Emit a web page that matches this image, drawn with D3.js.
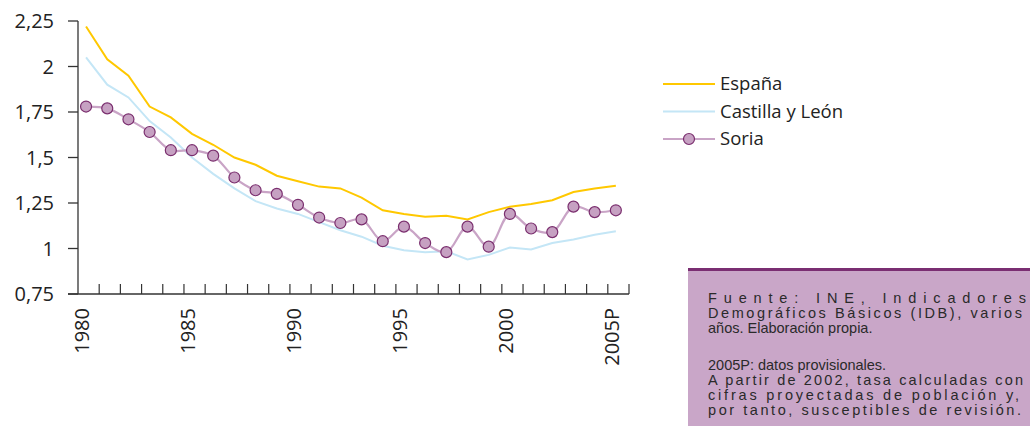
<!DOCTYPE html>
<html>
<head>
<meta charset="utf-8">
<script src="https://cdn.jsdelivr.net/npm/d3@7"></script>
<style>
  body { margin: 0; background: #fff; }
  svg { display: block; }
</style>
</head>
<body>
<svg width="1030" height="426"></svg>
<script>
const years = d3.range(1980, 2006);
const yearLabels = ['1980', '1985', '1990', '1995', '2000', '2005P'];
const yTicks = [0.75, 1, 1.25, 1.5, 1.75, 2, 2.25];

const espana = [2.22, 2.04, 1.95, 1.78, 1.72, 1.63, 1.57, 1.50, 1.46, 1.40, 1.37, 1.34,
  1.33, 1.28, 1.21, 1.19, 1.175, 1.18, 1.16, 1.20, 1.23, 1.245, 1.265, 1.31, 1.33, 1.345];
const castilla = [2.05, 1.90, 1.83, 1.70, 1.61, 1.50, 1.41, 1.33, 1.26, 1.22, 1.19, 1.145,
  1.10, 1.065, 1.015, 0.99, 0.98, 0.985, 0.94, 0.965, 1.005, 0.995, 1.03, 1.05, 1.075, 1.095];
const soria = [1.78, 1.77, 1.71, 1.64, 1.54, 1.54, 1.51, 1.39, 1.32, 1.30, 1.24, 1.17,
  1.14, 1.16, 1.04, 1.12, 1.03, 0.98, 1.12, 1.01, 1.19, 1.11, 1.09, 1.23, 1.20, 1.21];

const legendNames = ['España', 'Castilla y León', 'Soria'];
const noteSource = [
  'Fuente: INE, Indicadores',
  'Demográficos Básicos (IDB), varios',
  'años. Elaboración propia.'
];
const noteProvisional = [
  '2005P: datos provisionales.',
  'A partir de 2002, tasa calculadas con',
  'cifras proyectadas de población y,',
  'por tanto, susceptibles de revisión.'
];

const svg = d3.select('svg');
const font = "'Open Sans', sans-serif";
const axisColor = '#333';

const x = d3.scaleLinear().domain([1980, 2006]).range([78, 629]);
const y = d3.scaleLinear().domain([0.75, 2.25]).range([294, 21]);
const px = (i) => x(years[i] + 0.38);

// axes
const g = svg.append('g');
g.append('line').attr('x1', 78).attr('x2', 78).attr('y1', y(2.25)).attr('y2', y(0.75))
  .attr('stroke', axisColor).attr('stroke-width', 1.3);
g.append('line').attr('x1', 68).attr('x2', x(2006)).attr('y1', y(0.75)).attr('y2', y(0.75))
  .attr('stroke', axisColor).attr('stroke-width', 1.3);

yTicks.forEach((t) => {
  g.append('line').attr('x1', 68).attr('x2', 78).attr('y1', y(t)).attr('y2', y(t))
    .attr('stroke', axisColor).attr('stroke-width', 1.3);
  g.append('text')
    .attr('x', 54).attr('y', y(t)).attr('dy', '0.35em')
    .attr('text-anchor', 'end')
    .style('font-family', font).style('font-size', '20px').attr('fill', '#222')
    .text(String(t).replace('.', ','));
});

d3.range(1981, 2007).forEach((yr) => {
  g.append('line').attr('x1', x(yr)).attr('x2', x(yr)).attr('y1', 284).attr('y2', 294)
    .attr('stroke', axisColor).attr('stroke-width', 1.2);
});

yearLabels.forEach((lab, i) => {
  const xx = x(1980 + i * 5) + 4;
  g.append('text')
    .attr('transform', `translate(${xx},308) rotate(-90)`)
    .attr('dy', '0.35em')
    .attr('text-anchor', 'end')
    .style('font-family', font).style('font-size', '20px').attr('fill', '#222')
    .text(lab);
});

// lines
const line = d3.line().x((d, i) => px(i)).y((d) => y(d));
svg.append('path').datum(castilla).attr('d', line)
  .attr('fill', 'none').attr('stroke', '#c4e6f6').attr('stroke-width', 2);
svg.append('path').datum(espana).attr('d', line)
  .attr('fill', 'none').attr('stroke', '#ffc800').attr('stroke-width', 2);
svg.append('path').datum(soria).attr('d', line.curve(d3.curveCatmullRom.alpha(0.5)))
  .attr('fill', 'none').attr('stroke', '#c9a4c6').attr('stroke-width', 2.2);
svg.append('g').selectAll('circle').data(soria).join('circle')
  .attr('cx', (d, i) => px(i)).attr('cy', (d) => y(d)).attr('r', 5.5)
  .attr('fill', '#c6a1c2').attr('stroke', '#7a2e6e').attr('stroke-width', 1.2);

// legend
const legendColors = ['#ffc800', '#c4e6f6', '#c9a4c6'];
const leg = svg.append('g');
legendNames.forEach((name, i) => {
  const ly = 84 + i * 27.5;
  leg.append('line').attr('x1', 663).attr('x2', 715).attr('y1', ly).attr('y2', ly)
    .attr('stroke', legendColors[i]).attr('stroke-width', 2);
  if (i === 2) {
    leg.append('circle').attr('cx', 689).attr('cy', ly).attr('r', 5.5)
      .attr('fill', '#c6a1c2').attr('stroke', '#7a2e6e').attr('stroke-width', 1.2);
  }
  leg.append('text').attr('x', 720).attr('y', ly).attr('dy', '0.35em')
    .style('font-family', font).style('font-size', '18.5px').attr('fill', '#222')
    .text(name);
});

// note box
svg.append('rect').attr('x', 688).attr('y', 269).attr('width', 342).attr('height', 157)
  .attr('fill', '#c9a6c8');
svg.append('rect').attr('x', 688).attr('y', 268).attr('width', 342).attr('height', 3)
  .attr('fill', '#7a2e72');

function notePara(lines, y0, widths) {
  lines.forEach((t, i) => {
    const tx = svg.append('text').attr('x', 708).attr('y', y0 + i * 15.2)
      .style('font-family', "'Liberation Sans', Arial, sans-serif").style('font-size', '14.5px')
      .attr('fill', '#2a2a2a')
      .text(t);
    if (widths[i]) tx.attr('textLength', widths[i]).attr('lengthAdjust', 'spacing');
  });
}
notePara(noteSource, 302.5, [318, 314, 0]);
notePara(noteProvisional, 369.5, [0, 315, 311, 313]);
</script>
</body>
</html>
